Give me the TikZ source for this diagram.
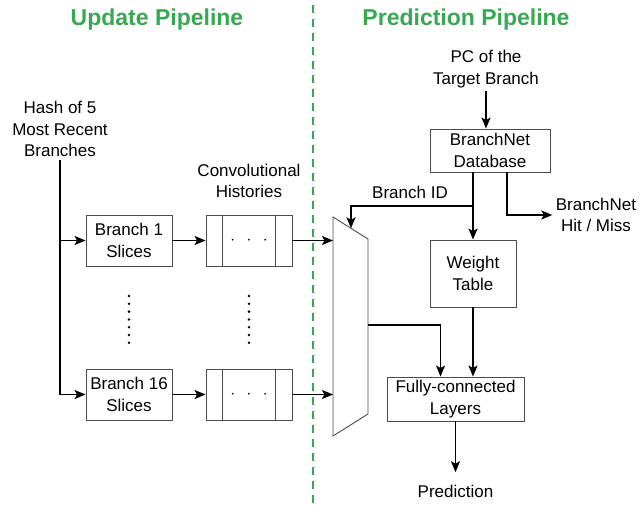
\documentclass[tikz,border=0pt]{standalone}
\usepackage{fontspec}
\setmainfont{Liberation Sans}
\usetikzlibrary{arrows.meta,positioning}
\definecolor{pipegreen}{RGB}{56,168,82}
\tikzset{
  box/.style={draw=black!70, line width=0.9pt, minimum width=86pt, minimum height=51pt, align=center, inner sep=0pt},
  lbl/.style={align=center},
  title/.style={font=\fontsize{23}{26}\selectfont\bfseries, text=pipegreen},
  arr/.style={-{Stealth[length=11pt,width=9pt,inset=2.5pt]}, line width=1.5pt},
  thin/.style={draw=black!70, line width=0.9pt},
}
\begin{document}
\begin{tikzpicture}[x=1pt,y=-1pt,font=\fontsize{17}{21.5}\selectfont]
\useasboundingbox (0,0) rectangle (643,506);

% titles and split
\node[title] (upd) at (157,20) {Update Pipeline};
\node[title] (pred) at (466,20) {Prediction Pipeline};
\draw[pipegreen, line width=2pt, dash pattern=on 8pt off 6pt] (313,5) -- (313,506);

% update pipeline
\node[lbl] (hash) at (60,129) {Hash of 5\\Most Recent\\Branches};
\node[box] (br1) at (129,240.5) {Branch 1\\Slices};
\node[box] (br16) at (129,394.5) {Branch 16\\Slices};
\draw[arr] (hash.south) |- (br16.west);
\draw[arr] (hash.south |- br1.west) -- (br1.west);

\node[lbl] (conv) at (249,181) {Convolutional\\Histories};
\node[box] (hist1) at (249,240.5) {$\cdot\;\,\cdot\;\,\cdot$};
\node[box] (hist16) at (249,394.5) {$\cdot\;\,\cdot\;\,\cdot$};
\foreach \h in {hist1,hist16} {
  \draw[thin] ([xshift=17pt]\h.north west) -- ([xshift=17pt]\h.south west);
  \draw[thin] ([xshift=-17pt]\h.north east) -- ([xshift=-17pt]\h.south east);
}
\foreach \i in {0,...,6} {
  \fill (129,296+7.8*\i) circle (1.4pt);
  \fill (249,296+7.8*\i) circle (1.4pt);
}
\draw[arr] (br1.east) -- (hist1.west);
\draw[arr] (br16.east) -- (hist16.west);

% mux
\coordinate (m1) at (333,217);
\coordinate (m2) at (368,239);
\coordinate (m3) at (368,414);
\coordinate (m4) at (333,436);
\draw[thin] (m1) -- (m2) -- (m3) -- (m4) -- cycle;
\coordinate (muxin1) at (333,240.5);
\coordinate (muxin16) at (333,394.5);
\coordinate (muxsel) at (351,228.3);
\coordinate (muxout) at (368,325);
\draw[arr] (hist1.east) -- (muxin1);
\draw[arr] (hist16.east) -- (muxin16);

% prediction pipeline
\node[lbl] (pc) at (486,69) {PC of the\\Target Branch};
\node[box, minimum width=120pt, minimum height=43pt] (db) at (490,150.5) {BranchNet\\Database};
\node[box, minimum height=67pt] (wt) at (473,273.5) {Weight\\Table};
\node[lbl] (hit) at (596,215) {BranchNet\\Hit / Miss};
\node[box, minimum width=137pt, minimum height=44pt] (fc) at (455.5,399) {Fully-connected\\Layers};
\node (out) at (455.5,491) {Prediction};

\draw[arr] (pc.south) -- (pc.south |- db.north);
\draw[arr] (wt.north |- db.south) -- (wt.north);
\coordinate (idsplit) at (473,206);
\draw[arr] (idsplit) -| (muxsel);
\node (bid) at (410,192) {Branch ID};
\draw[arr] ([xshift=17pt]db.south) |- (hit.west);
\draw[arr] (wt.south) -- (wt.south |- fc.north);
\draw[arr] (muxout) -| ([xshift=-15pt]fc.north);
\draw[arr, shorten >=9pt] (fc.south) -- (out.north);

\end{tikzpicture}
\end{document}
